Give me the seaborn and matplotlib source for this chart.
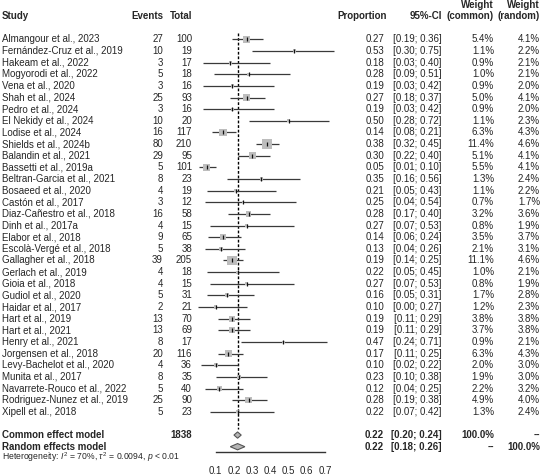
import matplotlib
import numpy as np
import pandas as pd
import seaborn as sns

matplotlib.use("Agg")
import matplotlib.pyplot as plt
import matplotlib.transforms as mtransforms

studies = [
    "Almangour et al., 2023", "Fernández-Cruz et al., 2019", "Hakeam et al., 2022",
    "Mogyorodi et al., 2022", "Vena et al., 2020", "Shah et al., 2024",
    "Pedro et al., 2024", "El Nekidy et al., 2024", "Lodise et al., 2024",
    "Shields et al., 2024b", "Balandin et al., 2021", "Bassetti et al., 2019a",
    "Beltran-Garcia et al., 2021", "Bosaeed et al., 2020", "Castón et al., 2017",
    "Diaz-Cañestro et al., 2018", "Dinh et al., 2017a", "Elabor et al., 2018",
    "Escolà-Vergé et al., 2018", "Gallagher et al., 2018", "Gerlach et al., 2019",
    "Gioia et al., 2018", "Gudiol et al., 2020", "Haidar et al., 2017",
    "Hart et al., 2019", "Hart et al., 2021", "Henry et al., 2021",
    "Jorgensen et al., 2018", "Levy-Bachelot et al., 2020", "Munita et al., 2017",
    "Navarrete-Rouco et al., 2022", "Rodriguez-Nunez et al., 2019", "Xipell et al., 2018",
]
events = [27, 10, 3, 5, 3, 25, 3, 10, 16, 80, 29, 5, 8, 4, 3, 16, 4, 9, 5, 39,
          4, 4, 5, 2, 13, 13, 8, 20, 4, 8, 5, 25, 5]
totals = [100, 19, 17, 18, 16, 93, 16, 20, 117, 210, 95, 101, 23, 19, 12, 58, 15, 65,
          38, 205, 18, 15, 31, 21, 70, 69, 17, 116, 36, 35, 40, 90, 23]
proportion = [0.27, 0.53, 0.18, 0.28, 0.19, 0.27, 0.19, 0.50, 0.14, 0.38, 0.30, 0.05,
              0.35, 0.21, 0.25, 0.28, 0.27, 0.14, 0.13, 0.19, 0.22, 0.27, 0.16, 0.10,
              0.19, 0.19, 0.47, 0.17, 0.10, 0.23, 0.12, 0.28, 0.22]
ci_low = [0.19, 0.30, 0.03, 0.09, 0.03, 0.18, 0.03, 0.28, 0.08, 0.32, 0.22, 0.01,
          0.16, 0.05, 0.04, 0.17, 0.07, 0.06, 0.04, 0.14, 0.05, 0.07, 0.05, 0.00,
          0.11, 0.11, 0.24, 0.11, 0.02, 0.10, 0.04, 0.19, 0.07]
ci_high = [0.36, 0.75, 0.40, 0.51, 0.42, 0.37, 0.42, 0.72, 0.21, 0.45, 0.40, 0.10,
           0.56, 0.43, 0.54, 0.40, 0.53, 0.24, 0.26, 0.25, 0.45, 0.53, 0.31, 0.27,
           0.29, 0.29, 0.71, 0.25, 0.22, 0.38, 0.25, 0.38, 0.42]
weight_common = [5.4, 1.1, 0.9, 1.0, 0.9, 5.0, 0.9, 1.1, 6.3, 11.4, 5.1, 5.5, 1.3, 1.1,
                 0.7, 3.2, 0.8, 3.5, 2.1, 11.1, 1.0, 0.8, 1.7, 1.2, 3.8, 3.7, 0.9, 6.3,
                 2.0, 1.9, 2.2, 4.9, 1.3]
weight_random = [4.1, 2.2, 2.1, 2.1, 2.0, 4.1, 2.0, 2.3, 4.3, 4.6, 4.1, 4.1, 2.4, 2.2,
                 1.7, 3.6, 1.9, 3.7, 3.1, 4.6, 2.1, 1.9, 2.8, 2.3, 3.8, 3.8, 2.1, 4.3,
                 3.0, 3.0, 3.2, 4.0, 2.4]

pooled_labels = ["Common effect model", "Random effects model"]
pooled_est = [0.22, 0.22]
pooled_low = [0.20, 0.18]
pooled_high = [0.24, 0.26]
pooled_w_common = ["100.0%", "--"]
pooled_w_random = ["--", "100.0%"]
total_n = 1838
xticks = [0.1, 0.2, 0.3, 0.4, 0.5, 0.6, 0.7]

W, H = 542, 475
FS = 7


def px(x):
    return x / W


sns.set_style("white")
plt.rcParams.update({
    "font.family": ["Liberation Sans", "DejaVu Sans"],
    "mathtext.fontset": "custom",
    "mathtext.rm": "Liberation Sans",
    "mathtext.it": "Liberation Sans:italic",
    "mathtext.bf": "Liberation Sans:bold",
})

df = pd.DataFrame({
    "study": studies, "events": events, "total": totals, "proportion": proportion,
    "low": ci_low, "high": ci_high, "w_common": weight_common, "w_random": weight_random,
})
df["row"] = np.arange(len(df))
common_row, random_row = len(df) + 1, len(df) + 2

fig = plt.figure(figsize=(W / 100, H / 100), dpi=100)
axis_px = 452
ax = fig.add_axes([px(190), (H - axis_px) / H, px(150), axis_px / H])
row0, row_h = 39.3, 11.64
ax.set_ylim((axis_px - row0) / row_h, -row0 / row_h)
ax.set_xlim((190 - 197.5) / 182.2, (340 - 197.5) / 182.2)

# CI lines
ax.hlines(df["row"], df["low"], df["high"], color="#3a3a3a", lw=0.9, zorder=2)
# weighted squares
sns.scatterplot(data=df, x="proportion", y="row", size="w_common",
                sizes=(0, 4.54 * 11.4), size_norm=(0, 11.4), marker="s",
                color="#bdbdbd", edgecolor="none", legend=False, ax=ax, zorder=3)
ax.scatter(df["proportion"], df["row"], marker="|", s=6, color="#111111",
           linewidths=0.9, zorder=4)

# pooled line
ax.vlines(pooled_est[0], -0.5, common_row - 0.55, color="black", lw=1.0,
          linestyles=(0, (2, 1.3)), zorder=1)

# diamonds
for est, lo, hi, r in zip(pooled_est, pooled_low, pooled_high, [common_row, random_row]):
    dh = 0.27
    ax.fill([lo, est, hi, est], [r, r - dh, r, r + dh], facecolor="#b5b5b5",
            edgecolor="#555555", lw=0.8, zorder=3)

for s in ["top", "right", "left"]:
    ax.spines[s].set_visible(False)
ax.spines["bottom"].set_bounds(0.1, 0.7)
ax.spines["bottom"].set_color("#333333")
ax.spines["bottom"].set_linewidth(1.0)
ax.set_xticks(xticks)
ax.set_xticklabels([f"{t:.1f}" for t in xticks])
ax.tick_params(axis="x", direction="out", length=4, width=1.0, color="#333333",
               labelsize=FS, pad=6)
ax.set_yticks([])
ax.set_xlabel("")
ax.set_ylabel("")
ax.patch.set_alpha(0)

tr = mtransforms.blended_transform_factory(fig.transFigure, ax.transData)


def put(x, y, s, ha="left", bold=False, size=FS):
    ax.text(px(x), y, s, ha=ha, va="center", fontsize=size, transform=tr,
            fontweight="bold" if bold else "normal", clip_on=False)


# headers
hdr = -2.0
put(2, hdr, "Study", bold=True)
put(163, hdr, "Events", ha="right", bold=True)
put(192, hdr, "Total", ha="right", bold=True)
put(387, hdr, "Proportion", ha="right", bold=True)
put(442, hdr, "95%-CI", ha="right", bold=True)
put(494, hdr - 0.95, "Weight", ha="right", bold=True)
put(494, hdr, "(common)", ha="right", bold=True)
put(540, hdr - 0.95, "Weight", ha="right", bold=True)
put(540, hdr, "(random)", ha="right", bold=True)

for r in df.itertuples():
    put(2, r.row, r.study)
    put(163, r.row, str(r.events), ha="right")
    put(192, r.row, str(r.total), ha="right")
    put(384, r.row, f"{r.proportion:.2f}", ha="right")
    put(442, r.row, f"[{r.low:.2f}; {r.high:.2f}]", ha="right")
    put(494, r.row, f"{r.w_common:.1f}%", ha="right")
    put(540, r.row, f"{r.w_random:.1f}%", ha="right")

for i, r in enumerate([common_row, random_row]):
    put(2, r, pooled_labels[i], bold=True)
    if i == 0:
        put(192, r, str(total_n), ha="right", bold=True)
    put(384, r, f"{pooled_est[i]:.2f}", ha="right", bold=True)
    put(442, r, f"[{pooled_low[i]:.2f}; {pooled_high[i]:.2f}]", ha="right", bold=True)
    put(494, r, pooled_w_common[i], ha="right", bold=True)
    put(540, r, pooled_w_random[i], ha="right", bold=True)

put(2, random_row + 0.9,
    r"Heterogeneity: $I^2$ = 70%, $\tau^2$ = 0.0094, $p$ < 0.01", size=6.2)

fig.savefig("out.png", dpi=100)
